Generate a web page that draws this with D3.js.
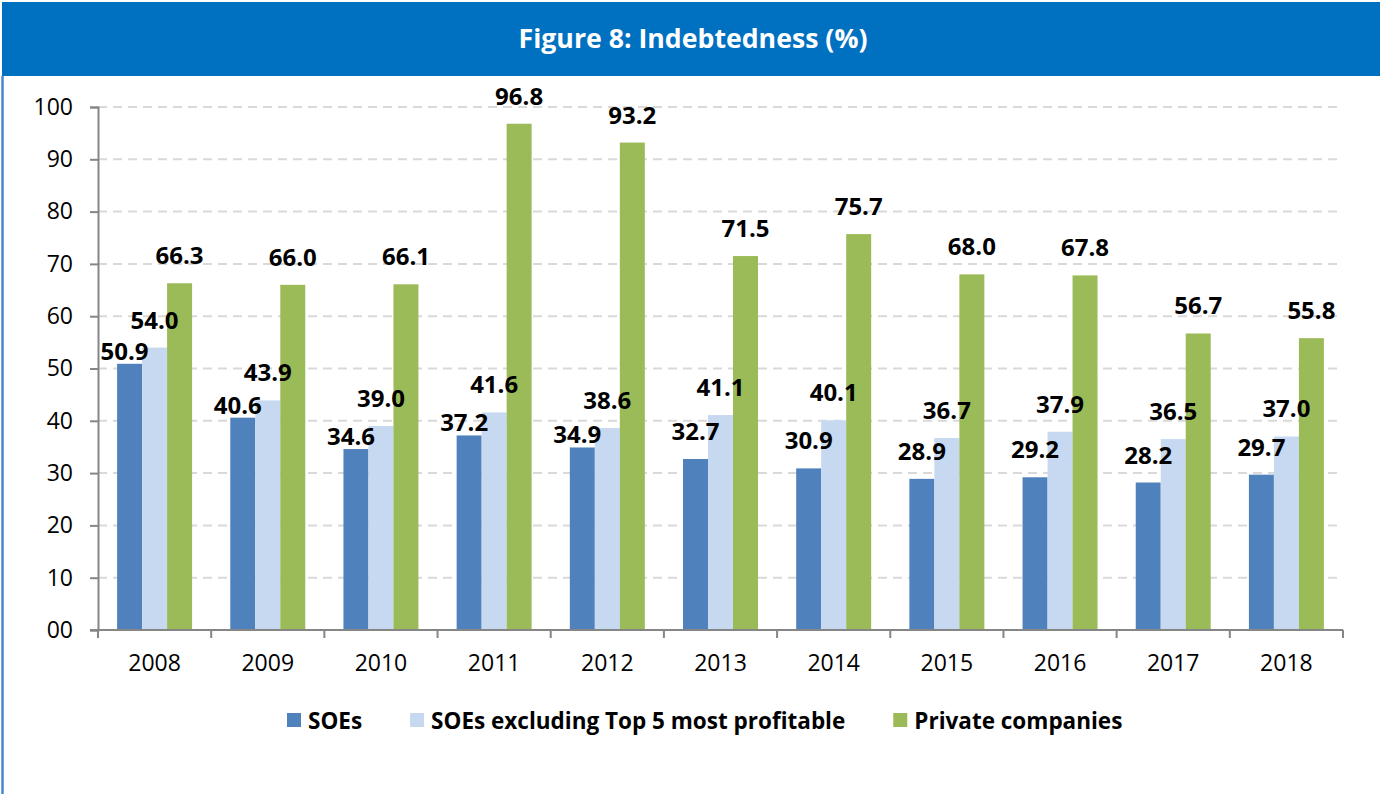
<!DOCTYPE html>
<html>
<head>
<meta charset="utf-8">
<script src="https://cdn.jsdelivr.net/npm/d3@7"></script>
<style>
  html, body { margin: 0; padding: 0; background: #ffffff; }
  svg { display: block; }
</style>
</head>
<body>
<svg id="chart" width="1385" height="794"></svg>
<script>
// ---- data ----
const title = "Figure 8: Indebtedness (%)";
const years = ["2008","2009","2010","2011","2012","2013","2014","2015","2016","2017","2018"];
const seriesNames = ["SOEs", "SOEs excluding Top 5 most profitable", "Private companies"];
const soes = [50.9, 40.6, 34.6, 37.2, 34.9, 32.7, 30.9, 28.9, 29.2, 28.2, 29.7];
const soesExTop5 = [54.0, 43.9, 39.0, 41.6, 38.6, 41.1, 40.1, 36.7, 37.9, 36.5, 37.0];
const privateCos = [66.3, 66.0, 66.1, 96.8, 93.2, 71.5, 75.7, 68.0, 67.8, 56.7, 55.8];
const yTicks = [0, 10, 20, 30, 40, 50, 60, 70, 80, 90, 100];
const yTickLabels = ["00", "10", "20", "30", "40", "50", "60", "70", "80", "90", "100"];

// ---- styles ----
const colors = ["#4F81BD", "#C6D9F1", "#9BBB59"];
const FONT = "'Open Sans', 'Noto Sans', sans-serif";

const svg = d3.select("#chart");

// title banner
svg.append("rect").attr("x", 2).attr("y", 2).attr("width", 1378).attr("height", 74).attr("fill", "#0070C0");
svg.append("line").attr("x1", 2.5).attr("x2", 2.5).attr("y1", 76).attr("y2", 794)
  .attr("stroke", "#4A86D0").attr("stroke-width", 2.5);
svg.append("text").attr("x", 693).attr("y", 48).attr("text-anchor", "middle")
  .attr("font-family", FONT).attr("font-weight", "bold").attr("font-size", 27)
  .attr("fill", "#ffffff").attr("textLength", 349).attr("lengthAdjust", "spacingAndGlyphs")
  .text(title);

// scales
const plot = { left: 98, right: 1343, top: 107, bottom: 630 };
const x = d3.scaleBand().domain(years).range([plot.left, plot.right]).paddingInner(0).paddingOuter(0);
const x1 = d3.scaleBand().domain(seriesNames).range([0, x.bandwidth()]).paddingInner(0).paddingOuter(0.764);
const y = d3.scaleLinear().domain([0, 100]).range([plot.bottom, plot.top]);

// gridlines
svg.append("g").selectAll("line").data(yTicks.filter(d => d > 0)).join("line")
  .attr("x1", plot.left).attr("x2", 1338)
  .attr("y1", d => y(d)).attr("y2", d => y(d))
  .attr("stroke", "#D9D9D9").attr("stroke-width", 2).attr("stroke-dasharray", "9,6");

// y axis
const yAxis = d3.axisLeft(y).tickValues(yTicks).tickSize(8).tickPadding(17)
  .tickFormat((d, i) => yTickLabels[i]);
const gy = svg.append("g").attr("transform", `translate(${plot.left},0)`).call(yAxis);
gy.select(".domain").attr("stroke", "#868686").attr("stroke-width", 2);
gy.selectAll(".tick line").attr("stroke", "#868686").attr("stroke-width", 2);
gy.selectAll(".tick text").attr("font-family", FONT).attr("font-size", 23).attr("fill", "#000");

// bars
const seriesData = [soes, soesExTop5, privateCos];
const groups = svg.append("g").selectAll("g").data(years).join("g")
  .attr("transform", d => `translate(${x(d)},0)`);
groups.selectAll("rect").data((yr, i) => seriesData.map((s, k) => ({ name: seriesNames[k], v: s[i], k })))
  .join("rect")
  .attr("x", d => x1(d.name)).attr("width", x1.bandwidth())
  .attr("y", d => y(d.v)).attr("height", d => y(0) - y(d.v))
  .attr("fill", d => colors[d.k]);

// x axis
const xAxisLine = svg.append("g");
xAxisLine.append("line").attr("x1", plot.left - 8).attr("x2", plot.right)
  .attr("y1", plot.bottom).attr("y2", plot.bottom).attr("stroke", "#868686").attr("stroke-width", 2);
const boundaries = years.map(d => x(d)).concat([x(years[years.length - 1]) + x.bandwidth()]);
xAxisLine.selectAll("line.tk").data(boundaries).join("line").attr("class", "tk")
  .attr("x1", d => d).attr("x2", d => d).attr("y1", plot.bottom).attr("y2", plot.bottom + 8)
  .attr("stroke", "#868686").attr("stroke-width", 2);
xAxisLine.selectAll("text").data(years).join("text")
  .attr("x", d => x(d) + x.bandwidth() / 2).attr("y", 671).attr("text-anchor", "middle")
  .attr("font-family", FONT).attr("font-size", 23).attr("fill", "#000").text(d => d);

// value labels (with simple collision avoidance for the SOE label)
const labelGap = 19;
const labels = [];
years.forEach((yr, i) => {
  seriesData.forEach((s, k) => {
    const cx = x(yr) + x1(seriesNames[k]) + x1.bandwidth() / 2;
    let ly = y(s[i]) - labelGap;
    let dx = 0;
    if (k === 0) {
      const lightY = y(soesExTop5[i]) - labelGap;
      if (ly - lightY < 26) { ly = y(s[i]) - 4; dx = -5; }
    }
    labels.push({ x: cx + dx, y: ly, t: d3.format(".1f")(s[i]) });
  });
});
svg.append("g").selectAll("text").data(labels).join("text")
  .attr("x", d => d.x).attr("y", d => d.y).attr("text-anchor", "middle")
  .attr("font-family", FONT).attr("font-weight", "bold").attr("font-size", 24).attr("fill", "#000")
  .text(d => d.t);

// legend
const legend = svg.append("g");
let lx = 287;
seriesNames.forEach((name, k) => {
  legend.append("rect").attr("x", lx).attr("y", 713).attr("width", 14).attr("height", 14).attr("fill", colors[k]);
  const t = legend.append("text").attr("x", lx + 21).attr("y", 729)
    .attr("font-family", FONT).attr("font-weight", "bold").attr("font-size", 22.5).attr("fill", "#000")
    .text(name);
  const w = t.node().getComputedTextLength();
  lx = lx + 21 + w + 48;
});
</script>
</body>
</html>
